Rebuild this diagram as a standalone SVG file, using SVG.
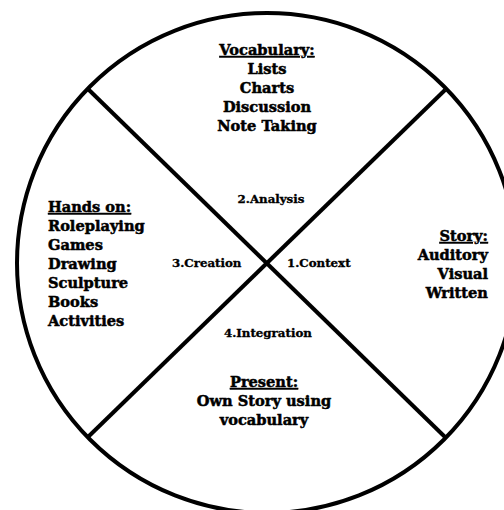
<svg xmlns="http://www.w3.org/2000/svg" width="504" height="510" viewBox="0 0 504 510">
<style>
.t{font-family:"DejaVu Serif","Liberation Serif",serif;font-weight:bold;font-size:14.6px;fill:#000;stroke:#000;stroke-width:0.5}
.s{font-family:"DejaVu Serif","Liberation Serif",serif;font-weight:bold;font-size:11.8px;fill:#000;stroke:#000;stroke-width:0.35}
.h{text-decoration:underline}
.c{text-anchor:middle}
.r{text-anchor:end}
.ln{stroke:#000;stroke-width:4;fill:none}
</style>
<rect width="504" height="510" fill="#fff"/>
<circle class="ln" cx="267" cy="263" r="250"/>
<g id="connectors">
<line class="ln" x1="88" y1="89" x2="445" y2="437"/>
<line class="ln" x1="445" y1="90" x2="88" y2="437"/>
</g>
<g id="vocabulary">
<text class="t c h" x="267" y="55">Vocabulary:</text>
<text class="t c" x="267" y="74">Lists</text>
<text class="t c" x="267" y="93">Charts</text>
<text class="t c" x="267" y="112">Discussion</text>
<text class="t c" x="267" y="131">Note Taking</text>
</g>
<g id="hands-on">
<text class="t h" x="48" y="212">Hands on:</text>
<text class="t" x="48" y="231">Roleplaying</text>
<text class="t" x="48" y="250">Games</text>
<text class="t" x="48" y="269">Drawing</text>
<text class="t" x="48" y="288">Sculpture</text>
<text class="t" x="48" y="307">Books</text>
<text class="t" x="48" y="326">Activities</text>
</g>
<g id="story">
<text class="t r h" x="488" y="241">Story:</text>
<text class="t r" x="488" y="260">Auditory</text>
<text class="t r" x="488" y="279">Visual</text>
<text class="t r" x="488" y="298">Written</text>
</g>
<g id="present">
<text class="t c h" x="264" y="387">Present:</text>
<text class="t c" x="264" y="406">Own Story using</text>
<text class="t c" x="264" y="425">vocabulary</text>
</g>
<g id="analysis"><text class="s c" x="271" y="203">2.Analysis</text></g>
<g id="creation"><text class="s" x="172" y="267">3.Creation</text></g>
<g id="context"><text class="s" x="287" y="267">1.Context</text></g>
<g id="integration"><text class="s" x="224" y="337">4.Integration</text></g>
</svg>
